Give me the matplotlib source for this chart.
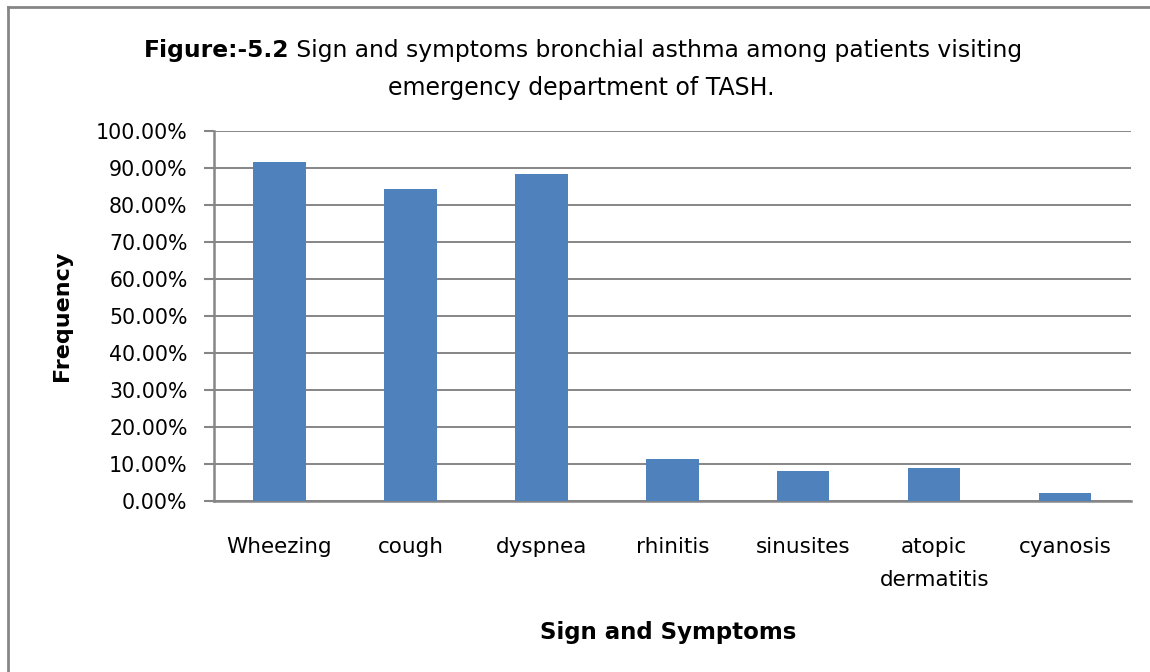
import matplotlib
matplotlib.use("Agg")
import matplotlib.pyplot as plt
from matplotlib.lines import Line2D
from matplotlib.ticker import FuncFormatter

categories = ["Wheezing", "cough", "dyspnea", "rhinitis", "sinusites", "atopic\ndermatitis", "cyanosis"]
values = [91.6, 84.3, 88.4, 11.3, 8.0, 8.8, 2.1]
yticks = [0, 10, 20, 30, 40, 50, 60, 70, 80, 90, 100]

W, H = 1150, 672
fig = plt.figure(figsize=(W / 100, H / 100), dpi=100)
plt.rcParams['font.family'] = ['DejaVu Sans']

ax = fig.add_axes([214 / W, 1 - 500.7 / H, (1130.7 - 214) / W, (500.7 - 131) / H])
grid_c = "#868686"
x = list(range(len(categories)))
ax.bar(x, values, width=0.4, color="#4F81BD", zorder=3)
ax.set_xlim(-0.5, len(categories) - 0.5)
ax.set_ylim(0, 100)
ax.set_yticks(yticks)
ax.yaxis.set_major_formatter(FuncFormatter(lambda v, p: f"{v:.2f}%"))
ax.set_xticks(x)
ax.set_xticklabels(categories, fontsize=15.5, linespacing=1.85)
ax.tick_params(axis='x', length=0, pad=26)
ax.tick_params(axis='y', length=7, width=1.5, color=grid_c, labelsize=14.8, pad=12)
ax.grid(axis='y', color=grid_c, linewidth=1.4, zorder=0)
for s in ['top', 'right']:
    ax.spines[s].set_visible(False)
for s in ['left', 'bottom']:
    ax.spines[s].set_color(grid_c)
    ax.spines[s].set_linewidth(1.8)
ax.set_axisbelow(True)

fig.text(62 / W, 1 - 316 / H, "Frequency", fontsize=16, fontweight='bold', rotation=90, ha='center', va='center')
fig.text(668 / W, 1 - 632 / H, "Sign and Symptoms", fontsize=16.5, fontweight='bold', ha='center', va='center')

# title
t1b = fig.text(0, 1 - 50 / H, "Figure:-5.2", fontsize=16.8, fontweight='bold', va='center', ha='left')
t1r = fig.text(0, 1 - 50 / H, " Sign and symptoms bronchial asthma among patients visiting", fontsize=16.8, va='center', ha='left')
fig.canvas.draw()
r = fig.canvas.get_renderer()
wb = t1b.get_window_extent(r).width
wr = t1r.get_window_extent(r).width
cx = 583
start = cx - (wb + wr) / 2
t1b.set_x(start / W)
t1r.set_x((start + wb) / W)
fig.text(581 / W, 1 - 88 / H, "emergency department of TASH.", fontsize=17, ha='center', va='center')

# outer border
fig.add_artist(Line2D([7.5 / W, 7.5 / W], [0, 1 - 6.5 / H], color=grid_c, linewidth=2, transform=fig.transFigure))
fig.add_artist(Line2D([7.5 / W, 1], [1 - 6.5 / H, 1 - 6.5 / H], color=grid_c, linewidth=2, transform=fig.transFigure))

fig.savefig("out.png", dpi=100, facecolor="white")
